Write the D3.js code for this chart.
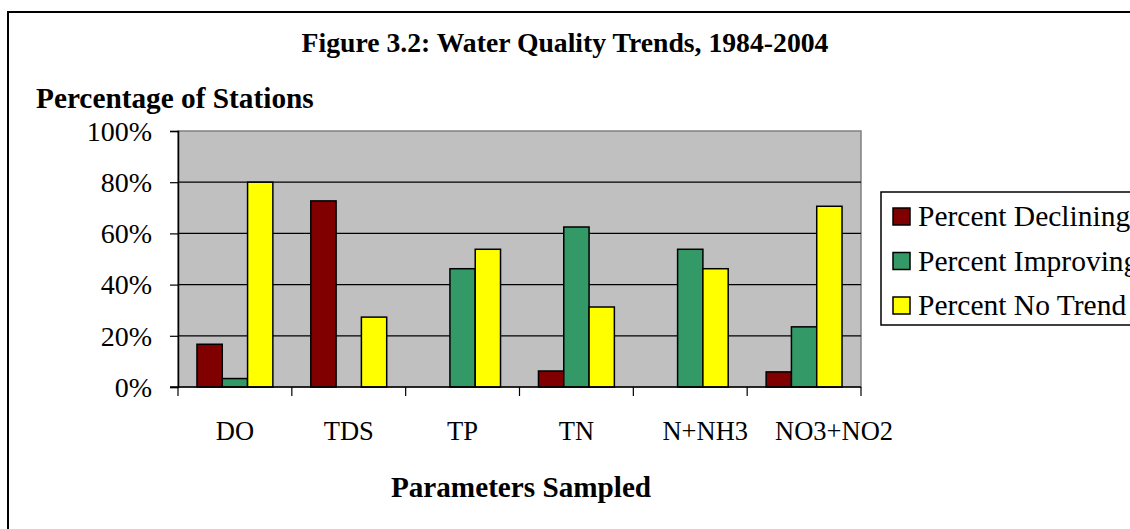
<!DOCTYPE html>
<html>
<head>
<meta charset="utf-8">
<script src="https://cdn.jsdelivr.net/npm/d3@7"></script>
<style>
  body { margin: 0; background: #fff; }
  svg { display: block; font-family: "Liberation Serif", "Times New Roman", serif; }
</style>
</head>
<body>
<svg id="chart" width="1130" height="529"></svg>
<script>
const categories = ["DO", "TDS", "TP", "TN", "N+NH3", "NO3+NO2"];
const seriesNames = ["Percent Declining", "Percent Improving", "Percent No Trend"];
const declining = [0.167, 0.727, 0, 0.0625, 0, 0.059];
const improving = [0.033, 0, 0.462, 0.625, 0.538, 0.235];
const noTrend = [0.80, 0.273, 0.538, 0.3125, 0.462, 0.706];
const yTicks = [0, 0.2, 0.4, 0.6, 0.8, 1];
const colors = ["#800000", "#339966", "#ffff00"];

const seriesValues = [declining, improving, noTrend];
// the last two category labels sit a little right of centre in the original
const labelShift = [0, 0, 0, 0, 15, 30];

const svg = d3.select("#chart");

// outer chart border (runs off the right and bottom)
svg.append("rect")
  .attr("x", 8).attr("y", 12)
  .attr("width", 1140).attr("height", 540)
  .attr("fill", "#fff").attr("stroke", "#000").attr("stroke-width", 2);

const pLeft = 178, pRight = 861, pTop = 131, pBottom = 387;

const x = d3.scaleBand().domain(categories).range([pLeft, pRight]).padding(0);
const xs = d3.scaleBand().domain(seriesNames).range([0, x.bandwidth()])
  .paddingInner(0).paddingOuter(0.75);
const y = d3.scaleLinear().domain([0, 1]).range([pBottom, pTop]);

// plot area
svg.append("rect")
  .attr("x", pLeft).attr("y", pTop)
  .attr("width", pRight - pLeft).attr("height", pBottom - pTop)
  .attr("fill", "#c0c0c0").attr("stroke", "#808080").attr("stroke-width", 1.5);

svg.append("g")
  .selectAll("line")
  .data(yTicks.filter(d => d > 0 && d < 1))
  .join("line")
    .attr("x1", pLeft).attr("x2", pRight)
    .attr("y1", d => y(d)).attr("y2", d => y(d))
    .attr("stroke", "#000").attr("stroke-width", 1.2);

// bars
const rows = categories.map((c, i) => ({ cat: c, vals: seriesNames.map((s, j) => ({ s, j, v: seriesValues[j][i] })) }));

svg.append("g")
  .selectAll("g")
  .data(rows)
  .join("g")
    .attr("transform", d => `translate(${x(d.cat)},0)`)
  .selectAll("rect")
  .data(d => d.vals.filter(v => v.v > 0))
  .join("rect")
    .attr("x", d => xs(d.s))
    .attr("y", d => y(d.v))
    .attr("width", xs.bandwidth())
    .attr("height", d => y(0) - y(d.v))
    .attr("fill", d => colors[d.j])
    .attr("stroke", "#000").attr("stroke-width", 1.5);

// y axis
const yAxis = svg.append("g")
  .attr("transform", `translate(${pLeft},0)`)
  .call(d3.axisLeft(y).tickValues(yTicks).tickFormat(d3.format(".0%")).tickSize(8).tickPadding(18));
yAxis.select(".domain").attr("stroke", "#000").attr("stroke-width", 1.5);
yAxis.selectAll(".tick line").attr("stroke", "#000").attr("stroke-width", 1.2);
yAxis.selectAll("text")
  .attr("font-family", "Liberation Serif").attr("font-size", 28).attr("fill", "#000")
  .attr("dy", "0.33em");

// x axis
svg.append("line")
  .attr("x1", pLeft - 8).attr("x2", pRight)
  .attr("y1", pBottom).attr("y2", pBottom)
  .attr("stroke", "#000").attr("stroke-width", 1.5);

const bounds = categories.map(c => x(c)).concat([x.range()[1]]);
svg.append("g")
  .selectAll("line")
  .data(bounds)
  .join("line")
    .attr("x1", d => d).attr("x2", d => d)
    .attr("y1", pBottom).attr("y2", pBottom + 9)
    .attr("stroke", "#000").attr("stroke-width", 1.2);

svg.append("g")
  .selectAll("text")
  .data(categories)
  .join("text")
    .attr("x", (d, i) => x(d) + x.bandwidth() / 2 + labelShift[i])
    .attr("y", 440)
    .attr("text-anchor", "middle")
    .attr("font-size", 26.5)
    .text(d => d);

// titles
svg.append("text")
  .attr("x", 565).attr("y", 52)
  .attr("text-anchor", "middle")
  .attr("font-size", 27.7).attr("font-weight", "bold")
  .text("Figure 3.2: Water Quality Trends, 1984-2004");

svg.append("text")
  .attr("x", 36).attr("y", 108)
  .attr("font-size", 29.3).attr("font-weight", "bold")
  .text("Percentage of Stations");

svg.append("text")
  .attr("x", 521).attr("y", 497)
  .attr("text-anchor", "middle")
  .attr("font-size", 29.2).attr("font-weight", "bold")
  .text("Parameters Sampled");

// legend
const legend = svg.append("g");
legend.append("rect")
  .attr("x", 881).attr("y", 192)
  .attr("width", 300).attr("height", 133)
  .attr("fill", "#fff").attr("stroke", "#000").attr("stroke-width", 1.5);

const item = legend.selectAll("g.item")
  .data(seriesNames)
  .join("g")
    .attr("class", "item")
    .attr("transform", (d, i) => `translate(893,${208 + i * 44.5})`);
item.append("rect")
  .attr("width", 17).attr("height", 17)
  .attr("fill", (d, i) => colors[i])
  .attr("stroke", "#000").attr("stroke-width", 1.5);
item.append("text")
  .attr("x", 25).attr("y", 18)
  .attr("font-size", 29.5)
  .text(d => d);
</script>
</body>
</html>
